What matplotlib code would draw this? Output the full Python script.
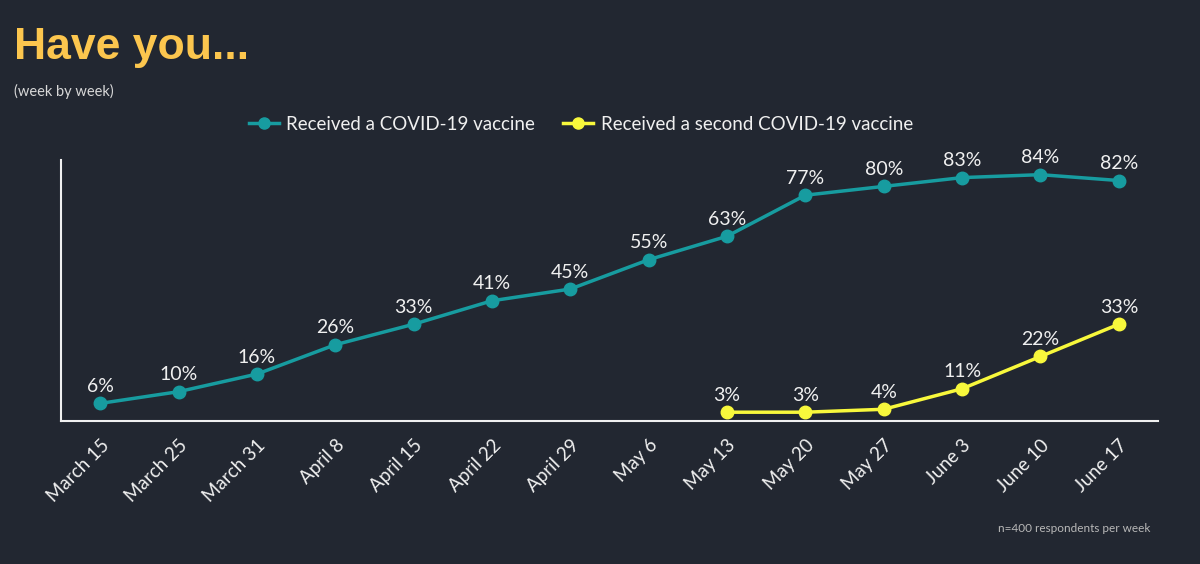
import numpy as np
import matplotlib
matplotlib.use("Agg")
import matplotlib.pyplot as plt

weeks = ["March 15", "March 25", "March 31", "April 8", "April 15", "April 22", "April 29",
         "May 6", "May 13", "May 20", "May 27", "June 3", "June 10", "June 17"]
first_dose = [6, 10, 16, 26, 33, 41, 45, 55, 63, 77, 80, 83, 84, 82]
second_dose = [None, None, None, None, None, None, None, None, 3, 3, 4, 11, 22, 33]

BG = "#222731"
TEAL = "#179ca0"
YELLOW = "#f8f83c"
WHITE = "#f0f0f0"

fig = plt.figure(figsize=(12, 5.64), dpi=100, facecolor=BG)
ax = fig.add_axes([61/1200, 1 - 421/564, (1158-61)/1200, (421-160)/564], facecolor=BG)

x = np.arange(len(weeks))
y2 = np.array([np.nan if v is None else v for v in second_dose], dtype=float)

ax.plot(x, first_dose, color=TEAL, lw=2.5, marker="o", ms=9, label="Received a COVID-19 vaccine", zorder=3)
ax.plot(x, y2, color=YELLOW, lw=2.5, marker="o", ms=9, label="Received a second COVID-19 vaccine", zorder=3)

for xi, v in zip(x, first_dose):
    ax.annotate(f"{v}%", (xi, v), xytext=(0, 6), textcoords="offset points", ha="center", va="bottom",
                color=WHITE, fontsize=14, family="Lato")
for xi, v in zip(x, y2):
    if not np.isnan(v):
        ax.annotate(f"{int(v)}%", (xi, v), xytext=(0, 6), textcoords="offset points", ha="center", va="bottom",
                    color=WHITE, fontsize=14, family="Lato")

ax.set_xlim(-0.5, 13.5)
ax.set_ylim(0, 89)
ax.set_xticks(x)
ax.set_xticklabels(weeks, rotation=45, ha="right", rotation_mode="anchor", color=WHITE, fontsize=13.5, family="Lato")
ax.set_yticks([])
ax.tick_params(axis="x", length=0, pad=11)
for s in ["top", "right"]:
    ax.spines[s].set_visible(False)
for s in ["left", "bottom"]:
    ax.spines[s].set_color(WHITE)
    ax.spines[s].set_linewidth(1.5)

leg = fig.legend(loc="center", bbox_to_anchor=(581/1200, 1 - 124/564), ncol=2, frameon=False,
                 prop={"family": "Lato", "size": 13.5}, handlelength=1.6, handletextpad=0.4, columnspacing=1.5,
                 labelcolor=WHITE)
for h in leg.legend_handles:
    h.set_markersize(8)

fig.text(14/1200, 1 - 47/564, "Have you...", color="#fcc64e", fontsize=32, fontweight="bold",
         family="Liberation Sans", va="center", ha="left")
fig.text(14/1200, 1 - 91/564, "(week by week)", color="#d8d8d8", fontsize=10.5, family="Lato", va="center", ha="left")
fig.text(1150/1200, 1 - 528/564, "n=400 respondents per week", color="#b8b8b8", fontsize=8.5, family="Lato",
         va="center", ha="right")

fig.savefig("out.png", dpi=100, facecolor=BG)
